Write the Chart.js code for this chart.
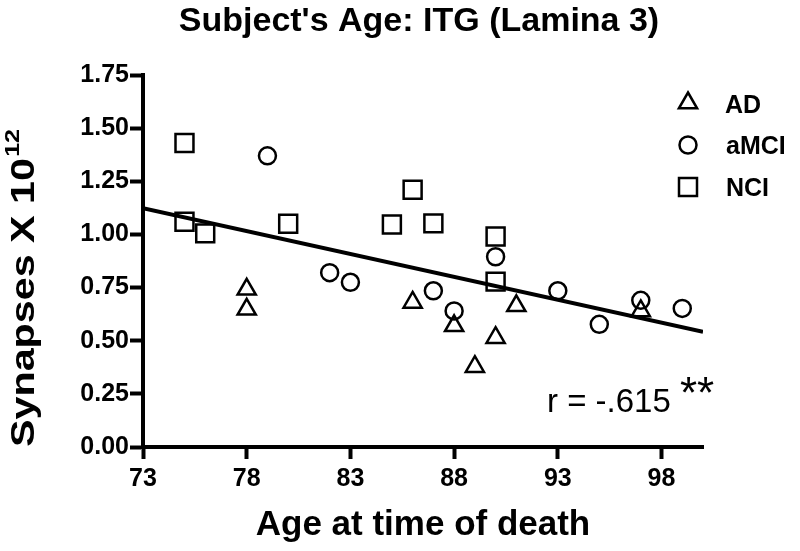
<!DOCTYPE html>
<html lang="en">
<head>
  <meta charset="UTF-8" />
  <title>Subject's Age: ITG (Lamina 3)</title>
  <script src="https://cdn.jsdelivr.net/npm/chart.js"></script>
  <style>
    body {
      margin: 0;
      padding: 0;
      background: #ffffff;
    }

    .wrap {
      position: relative;
      width: 800px;
      height: 551px;
    }
  </style>
</head>
<body>
  <div class="wrap">
    <canvas id="ageChart"></canvas>
  </div>

  <script>
    // Data (age in years, synapses x 10^12)
    const adAge = [78, 78, 86, 88, 89, 90, 91, 97];
    const adSyn = [0.742, 0.648, 0.68, 0.57, 0.378, 0.514, 0.664, 0.64];

    const amciAge = [79, 82, 83, 87, 88, 90, 93, 95, 97, 99];
    const amciSyn = [1.37, 0.82, 0.775, 0.735, 0.64, 0.895, 0.735, 0.577, 0.69, 0.652];

    const nciAge = [75, 75, 76, 80, 85, 86, 87, 90, 90];
    const nciSyn = [1.43, 1.06, 1.005, 1.05, 1.047, 1.21, 1.052, 0.99, 0.778];

    // regression line end points
    const fitAge = [73, 100];
    const fitSyn = [1.123, 0.542];

    const xTicks = [73, 78, 83, 88, 93, 98];
    const yTicks = [0, 0.25, 0.5, 0.75, 1.0, 1.25, 1.5, 1.75];

    const FONT = "'Liberation Sans', Arial, sans-serif";

    function pairs(xs, ys) {
      return xs.map((x, i) => ({ x: x, y: ys[i] }));
    }

    // title, legend, r value and y axis title
    const extras = {
      id: 'extras',
      afterDraw(chart) {
        const ctx = chart.ctx;
        ctx.save();
        ctx.fillStyle = '#000';
        ctx.strokeStyle = '#000';

        ctx.font = 'bold 34px ' + FONT;
        ctx.textAlign = 'center';
        ctx.textBaseline = 'alphabetic';
        ctx.fillText("Subject's Age: ITG (Lamina 3)", 419, 31);

        // legend
        ctx.lineWidth = 2.5;
        const lx = 688;
        ctx.beginPath();
        ctx.moveTo(lx, 103 - 10.5);
        ctx.lineTo(lx + 9.1, 103 + 5.25);
        ctx.lineTo(lx - 9.1, 103 + 5.25);
        ctx.closePath();
        ctx.stroke();
        ctx.beginPath();
        ctx.arc(lx, 145, 8.5, 0, Math.PI * 2);
        ctx.stroke();
        ctx.strokeRect(lx - 9, 187 - 9, 18, 18);

        ctx.font = 'bold 25px ' + FONT;
        ctx.textAlign = 'left';
        ctx.fillText('AD', 725, 113);
        ctx.fillText('aMCI', 726, 154);
        ctx.fillText('NCI', 726, 196);

        // correlation
        ctx.font = '33px ' + FONT;
        ctx.fillText('r = -.615', 547, 412);
        ctx.font = '44px ' + FONT;
        ctx.fillText('**', 680, 408);

        // y axis title with superscript
        ctx.translate(25, 447);
        ctx.rotate(-Math.PI / 2);
        ctx.scale(1.25, 1);
        ctx.textBaseline = 'middle';
        ctx.font = 'bold 33px ' + FONT;
        const main = 'Synapses X 10';
        ctx.fillText(main, 0, 0);
        const w = ctx.measureText(main).width;
        ctx.font = 'bold 20px ' + FONT;
        ctx.fillText('12', w + 1, -12);

        ctx.restore();
      }
    };

    const marker = {
      backgroundColor: 'rgba(0,0,0,0)',
      borderColor: '#000',
      pointBorderWidth: 2.5,
      pointHoverBorderWidth: 2.5,
      showLine: false
    };

    const ctx = document.getElementById('ageChart').getContext('2d');
    new Chart(ctx, {
      type: 'scatter',
      data: {
        datasets: [
          {
            label: 'Fit',
            data: pairs(fitAge, fitSyn),
            showLine: true,
            borderColor: '#000',
            borderWidth: 4,
            pointRadius: 0,
            order: 0
          },
          Object.assign({ label: 'AD', data: pairs(adAge, adSyn), pointStyle: 'triangle', pointRadius: 10.5 }, marker),
          Object.assign({ label: 'aMCI', data: pairs(amciAge, amciSyn), pointStyle: 'circle', pointRadius: 8.5 }, marker),
          Object.assign({ label: 'NCI', data: pairs(nciAge, nciSyn), pointStyle: 'rect', pointRadius: 12.7 }, marker)
        ]
      },
      options: {
        responsive: true,
        maintainAspectRatio: false,
        animation: false,
        layout: {
          padding: { left: 0, right: 97, top: 75, bottom: 0 }
        },
        plugins: {
          legend: { display: false },
          tooltip: { enabled: false },
          title: { display: false }
        },
        scales: {
          x: {
            type: 'linear',
            min: 73,
            max: 100,
            afterBuildTicks: (axis) => { axis.ticks = xTicks.map(v => ({ value: v })); },
            afterFit: (axis) => { axis.height = 104; },
            border: { color: '#000', width: 4 },
            grid: {
              drawOnChartArea: false,
              drawTicks: true,
              tickLength: 12,
              tickWidth: 4,
              color: '#000'
            },
            ticks: {
              color: '#000',
              padding: 8,
              maxRotation: 0,
              font: { family: FONT, size: 25, weight: 'bold', lineHeight: 1 }
            },
            title: {
              display: true,
              text: 'Age at time of death',
              color: '#000',
              padding: { top: 0, bottom: 8 },
              font: { family: FONT, size: 35, weight: 'bold', lineHeight: 1 }
            }
          },
          y: {
            min: 0,
            max: 1.75,
            afterBuildTicks: (axis) => { axis.ticks = yTicks.map(v => ({ value: v })); },
            afterFit: (axis) => { axis.width = 143; },
            border: { color: '#000', width: 4 },
            grid: {
              drawOnChartArea: false,
              drawTicks: true,
              tickLength: 13,
              tickWidth: 4,
              color: '#000'
            },
            ticks: {
              color: '#000',
              padding: 1,
              callback: (v) => v.toFixed(2),
              font: { family: FONT, size: 25, weight: 'bold' }
            }
          }
        }
      },
      plugins: [extras]
    });
  </script>
</body>
</html>
